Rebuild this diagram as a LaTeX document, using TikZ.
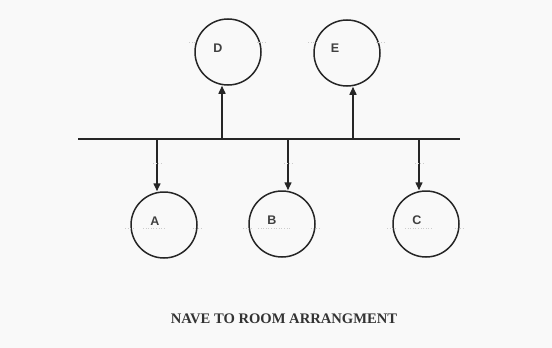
\documentclass[tikz,border=0pt]{standalone}
\usepackage{fontspec}
\setmainfont{Liberation Serif}
\setsansfont{Liberation Sans}
\usetikzlibrary{arrows.meta}
\begin{document}
\begin{tikzpicture}[x=1pt,y=-1pt,
  room/.style={circle,draw=black!85,line width=1.5pt,minimum size=66pt,inner sep=0pt},
  tag/.style={font=\sffamily\fontsize{12.5}{13}\selectfont\bfseries,text=black!75,inner sep=0pt},
  arr/.style={line width=1.5pt,draw=black!85,-{Triangle[length=8pt,width=7pt]}},
  guide/.style={draw=gray!40,line width=0.6pt,dotted}]
  % paper
  \fill[gray!5] (0,0) rectangle (552,348);
  \useasboundingbox (0,0) rectangle (552,348);

  % rooms
  \node[room] (D) at (228,52) {};
  \node[room] (E) at (347,53) {};
  \node[room] (A) at (164,225) {};
  \node[room] (B) at (282,224) {};
  \node[room] (C) at (426,224) {};

  % faint construction marks through the rooms
  \foreach \r/\dy in {D/-10,E/-11,A/3,B/4,C/4}{
    \draw[guide] ([xshift=-5pt,yshift=-\dy pt]\r.west) -- ([xshift=5pt,yshift=-\dy pt]\r.west);
    \draw[guide] ([xshift=-5pt,yshift=-\dy pt]\r.east) -- ([xshift=5pt,yshift=-\dy pt]\r.east);
  }
  \draw[guide] (143,228) -- (165,228);
  \draw[guide] (258,228) -- (290,228);
  \draw[guide] (405,228) -- (432,228);

  % room letters
  \node[tag] at (218,48) {D};
  \node[tag] at (335,48) {E};
  \node[tag] at (155,221) {A};
  \node[tag] at (272,220) {B};
  \node[tag] at (417,220) {C};

  % nave
  \coordinate (busL) at (78,139);
  \coordinate (busR) at (460,139);
  \draw[line width=1.5pt,black!85] (busL) -- (busR);

  % junctions on the nave
  \coordinate (jD) at (222,139);
  \coordinate (jE) at (353,139);
  \coordinate (jA) at (157,139);
  \coordinate (jB) at (288,139);
  \coordinate (jC) at (419,139);

  % connectors
  \draw[arr] (jD) -- (jD |- D.south);
  \draw[arr] (jE) -- (jE |- E.south);
  \draw[arr] (jA) -- (jA |- A.north);
  \draw[arr] (jB) -- (jB |- B.north);
  \draw[arr] (jC) -- (jC |- C.north);

  % small marks on the lower connectors
  \foreach \j in {jA,jB,jC}
    \draw[guide] ([xshift=-4pt,yshift=-24pt]\j) -- ([xshift=4pt,yshift=-24pt]\j);

  % caption
  \node[font=\fontsize{14.6}{16}\selectfont\bfseries,text=black!80,inner sep=0pt] (cap) at (284,319) {NAVE TO ROOM ARRANGMENT};
\end{tikzpicture}
\end{document}
